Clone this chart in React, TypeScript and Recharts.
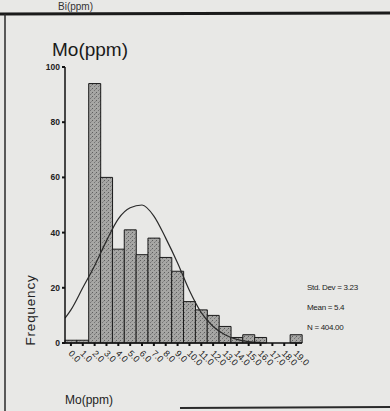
import React from 'react';
import { ComposedChart, Bar, Line, XAxis, YAxis } from 'recharts';

// Mo(ppm) histogram, bins of width 1
const binLabels = ['0.0', '1.0', '2.0', '3.0', '4.0', '5.0', '6.0', '7.0', '8.0', '9.0',
  '10.0', '11.0', '12.0', '13.0', '14.0', '15.0', '16.0', '17.0', '18.0', '19.0'];
const frequencies = [1, 1, 94, 60, 34, 41, 32, 38, 31, 26, 15, 12, 10, 6, 2, 3, 2, 0, 0, 3];

// fitted normal curve
const curveX = [-0.5, 0, 1, 2, 3, 4, 5, 6, 7, 8, 9, 10, 11, 12, 13, 14, 15, 16];
const curveY = [9, 12, 20, 28, 37, 45, 49, 50, 46, 38, 29, 19, 11, 6, 3, 1.3, 0.5, 0.2];

const yTicks = [0, 20, 40, 60, 80, 100];
const statLines = ['Std. Dev = 3.23', 'Mean = 5.4', 'N = 404.00'];

const barData = binLabels.map((bin, i) => ({ bin, count: frequencies[i] }));
const curveData = curveX.map((x, i) => ({ x, y: curveY[i] }));

const FONT = '"Liberation Sans", Arial, sans-serif';

const BinTick = ({ x, y, payload }: any) => (
  <text
    x={0}
    y={0}
    transform={`translate(${x - 3},${y + 6}) rotate(45)`}
    textAnchor="start"
    fontSize={9}
    fontFamily={FONT}
    fill="#222"
  >
    {payload.value}
  </text>
);

const App: React.FC = () => {
  return (
    <div style={{ position: 'absolute', left: 0, top: 0, width: 390, height: 411, background: '#e8e8e6', overflow: 'hidden', fontFamily: FONT }}>
      <ComposedChart
        width={390}
        height={411}
        data={barData}
        margin={{ top: 67, right: 88, left: 5, bottom: 38 }}
        barCategoryGap={0}
      >
        <defs>
          <pattern id="stipple" width="4" height="4" patternUnits="userSpaceOnUse">
            <rect width="4" height="4" fill="#a6a6a4" />
            <rect x="0" y="0" width="1" height="1" fill="#5e5e5e" />
            <rect x="2" y="2" width="1" height="1" fill="#747474" />
            <rect x="3" y="1" width="1" height="1" fill="#8a8a8a" />
          </pattern>
        </defs>
        <XAxis
          dataKey="bin"
          height={30}
          interval={0}
          tick={<BinTick />}
          tickSize={3}
          tickLine={{ stroke: '#111', strokeWidth: 2 }}
          axisLine={{ stroke: '#111', strokeWidth: 1.5 }}
        />
        <XAxis
          xAxisId="num"
          type="number"
          dataKey="x"
          orientation="top"
          domain={[-0.5, 19.5]}
          allowDataOverflow
          height={0}
          tick={false}
          tickLine={false}
          axisLine={{ stroke: '#111', strokeWidth: 1.5 }}
        />
        <YAxis
          width={60}
          domain={[0, 100]}
          ticks={yTicks}
          interval={0}
          tickSize={3}
          tickLine={{ stroke: '#111', strokeWidth: 2 }}
          axisLine={{ stroke: '#111', strokeWidth: 1.5 }}
          tick={{ fontSize: 8.5, fontFamily: FONT, fill: '#222', fontWeight: 'bold' }}
        />
        <YAxis
          yAxisId="r"
          orientation="right"
          width={0}
          domain={[0, 100]}
          tick={false}
          tickLine={false}
          axisLine={{ stroke: '#222', strokeWidth: 1.2 }}
        />
        <Bar dataKey="count" fill="url(#stipple)" stroke="#1a1a1a" strokeWidth={1} isAnimationActive={false} />
        <Line
          xAxisId="num"
          data={curveData}
          dataKey="y"
          type="monotone"
          stroke="#2a2a2a"
          strokeWidth={1.2}
          dot={false}
          isAnimationActive={false}
        />
      </ComposedChart>

      <svg width={390} height={411} style={{ position: 'absolute', left: 0, top: 0, pointerEvents: 'none' }}>
        <text x={58} y={10} fontSize={10} fill="#333" fontFamily={FONT}>Bi(ppm)</text>
        <line x1={0} y1={14} x2={390} y2={13} stroke="#1a1a1a" strokeWidth={3} />
        <line x1={5} y1={14} x2={5} y2={411} stroke="#2a2a2a" strokeWidth={1.5} />
        <line x1={180} y1={408} x2={390} y2={407} stroke="#2a2a2a" strokeWidth={2} />
        <text x={52} y={56} fontSize={19} fill="#1a1a1a" fontFamily={FONT}>Mo(ppm)</text>
        <text x={35} y={310} fontSize={13.5} fill="#222" fontFamily={FONT} textAnchor="middle" transform="rotate(-90 35 310)" letterSpacing={0.8}>Frequency</text>
        <text x={65} y={404} fontSize={12} fill="#222" fontFamily={FONT}>Mo(ppm)</text>
        {statLines.map((s, i) => (
          <text key={s} x={307} y={290 + i * 20} fontSize={8} fill="#222" fontFamily={FONT} letterSpacing={-0.3}>{s}</text>
        ))}
      </svg>
    </div>
  );
};

export default App;
